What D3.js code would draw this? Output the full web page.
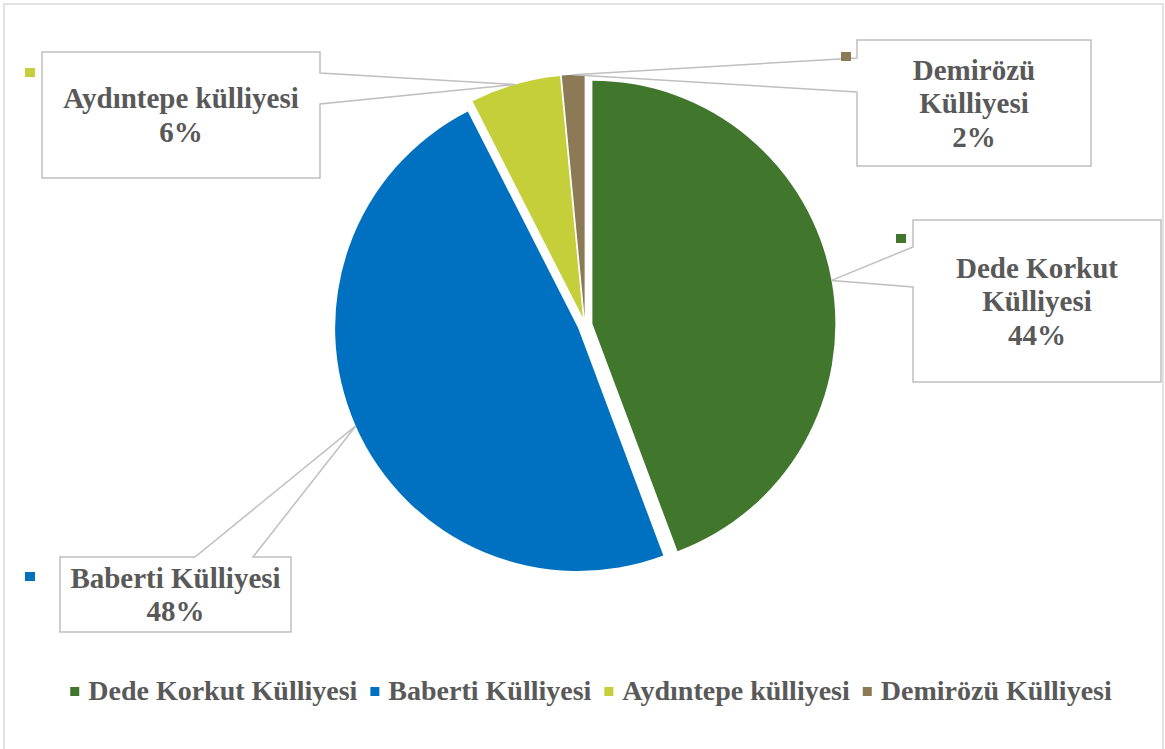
<!DOCTYPE html>
<html>
<head>
<meta charset="utf-8">
<script src="https://cdn.jsdelivr.net/npm/d3@7"></script>
<style>
  body { margin: 0; background: #fff; }
  text { font-family: "Times New Roman", "Liberation Serif", serif; font-weight: bold; fill: #595959; }
</style>
</head>
<body>
<script>
// data
const categories = ["Dede Korkut Külliyesi", "Baberti Külliyesi", "Aydıntepe külliyesi", "Demirözü Külliyesi"];
const values = [44.3, 48.2, 6.0, 1.5];
const colors = ["#41772d", "#0070c0", "#c5cf3a", "#8b7a55"];
const labelLines = [["Dede Korkut", "Külliyesi"], ["Baberti Külliyesi"], ["Aydıntepe külliyesi"], ["Demirözü", "Külliyesi"]];

// callout boxes (layout only)
const boxes = [
  {x0: 913, y0: 220, x1: 1161, y1: 382, side: "left", a: 247, b: 287, kx: 896, ky: 234},
  {x0: 60, y0: 557, x1: 291, y1: 632, side: "top", a: 195, b: 253, kx: 25, ky: 572},
  {x0: 42, y0: 52, x1: 320, y1: 178, side: "right", a: 73, b: 104, kx: 25, ky: 68},
  {x0: 857, y0: 40, x1: 1091, y1: 166, side: "left", a: 58, b: 92, kx: 841, ky: 52}
];

const width = 1165, height = 749;
const svg = d3.select("body").append("svg")
    .attr("width", width)
    .attr("height", height);

// chart border
svg.append("rect")
    .attr("x", 4).attr("y", 4)
    .attr("width", 1159).attr("height", 760)
    .attr("fill", "none")
    .attr("stroke", "#d9d9d9")
    .attr("stroke-width", 1.5);

const cx = 585, cy = 325, r = 243, explode = 7.5;
const total = d3.sum(values);
const pct = d3.format(".0%");

const pie = d3.pie().sort(null).value(d => d);
const arcs = pie(values);
const arc = d3.arc().innerRadius(0).outerRadius(r);

const mid = d => (d.startAngle + d.endAngle) / 2;

svg.append("g").selectAll("path")
  .data(arcs)
  .enter().append("path")
    .attr("transform", d => "translate(" + (cx + explode * Math.sin(mid(d))) + "," + (cy - explode * Math.cos(mid(d))) + ")")
    .attr("d", arc)
    .attr("fill", (d, i) => colors[i]);

// callouts
const lineH = 33.5;
const labels = svg.append("g");

arcs.forEach(function(d, i) {
  const b = boxes[i];
  const m = mid(d);
  const apex = [cx + (r + explode) * Math.sin(m), cy - (r + explode) * Math.cos(m)];
  let pts;
  if (b.side === "right") {
    pts = [[b.x0, b.y0], [b.x1, b.y0], [b.x1, b.a], apex, [b.x1, b.b], [b.x1, b.y1], [b.x0, b.y1]];
  } else if (b.side === "left") {
    pts = [[b.x0, b.y0], [b.x1, b.y0], [b.x1, b.y1], [b.x0, b.y1], [b.x0, b.b], apex, [b.x0, b.a]];
  } else {
    pts = [[b.x0, b.y0], [b.a, b.y0], apex, [b.b, b.y0], [b.x1, b.y0], [b.x1, b.y1], [b.x0, b.y1]];
  }
  labels.append("path")
      .attr("d", d3.line()(pts) + "Z")
      .attr("fill", "#fff")
      .attr("stroke", "#bfbfbf")
      .attr("stroke-width", 1.5);

  labels.append("rect")
      .attr("x", b.kx).attr("y", b.ky)
      .attr("width", 10).attr("height", 9)
      .attr("fill", colors[i]);

  const lines = labelLines[i].concat([pct(values[i] / total)]);
  const bx = (b.x0 + b.x1) / 2, by = (b.y0 + b.y1) / 2;
  lines.forEach(function(t, j) {
    labels.append("text")
        .attr("x", bx)
        .attr("y", by + (j - (lines.length - 1) / 2) * lineH + 10)
        .attr("text-anchor", "middle")
        .style("font-size", "29px")
        .text(t);
  });
});

// legend
const legend = svg.append("g");
const items = legend.selectAll("g")
  .data(categories)
  .enter().append("g");

items.append("rect")
    .attr("width", 9).attr("height", 9)
    .attr("y", -13)
    .attr("fill", (d, i) => colors[i]);

items.append("text")
    .attr("x", 18)
    .style("font-size", "28px")
    .text(d => d);

let xpos = 0;
items.each(function() {
  const w = 18 + d3.select(this).select("text").node().getComputedTextLength();
  d3.select(this).attr("transform", "translate(" + xpos + ",0)");
  xpos += w + 13;
});
const legW = xpos - 13;
legend.attr("transform", "translate(" + (591 - legW / 2) + ",700)");
</script>
</body>
</html>
